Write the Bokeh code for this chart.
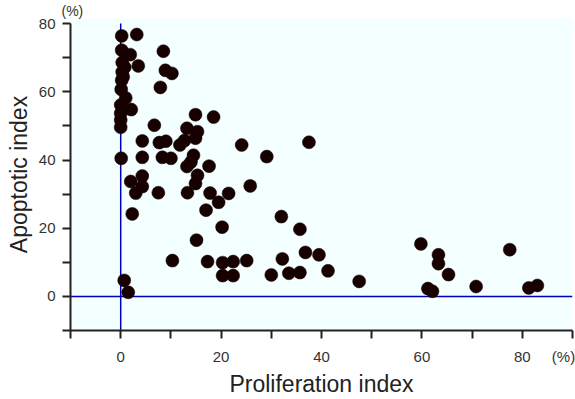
from bokeh.plotting import figure
from bokeh.models import FixedTicker
from bokeh.embed import file_html
from bokeh.resources import INLINE

# Proliferation index (%) and apoptotic index (%) per sample
prolif = [0.2, 3.2, 0.2, 1.9, 8.5, 0.3, 0.8, 3.5, 0.3, 0.5, 0.2, 8.9, 10.2, 7.9,
          0.1, 1.0, 0.0, 2.1, 0.0, 0.0, 0.0, 14.9, 18.5, 6.7, 13.2, 15.3, 14.9,
          4.3, 7.7, 9.0, 11.8, 12.7, 0.1, 4.3, 8.3, 10.0, 14.5, 13.2, 14.0, 17.6,
          2.0, 4.3, 4.3, 3.0, 7.5, 15.3, 14.9, 13.3, 17.8, 19.5, 21.5, 17.0, 2.3,
          20.2, 15.1, 10.3, 17.3, 20.3, 22.4, 20.3, 22.4, 0.7, 1.5, 24.1, 37.5,
          29.1, 25.8, 32.0, 35.7, 25.1, 30.0, 32.2, 36.8, 39.5, 33.5, 35.7, 41.3,
          47.5, 59.8, 63.3, 63.3, 65.3, 61.2, 62.1, 70.8, 77.5, 81.3, 83.0]
apopt = [76.4, 76.8, 72.2, 70.9, 71.9, 68.6, 67.2, 67.6, 65.8, 64.4, 63.4, 66.3,
         65.4, 61.3, 60.7, 58.2, 56.1, 54.8, 53.7, 51.7, 49.6, 53.3, 52.6, 50.2,
         49.3, 48.3, 46.4, 45.6, 45.1, 45.5, 44.4, 45.7, 40.5, 40.8, 40.8, 40.5,
         41.4, 38.1, 39.4, 38.2, 33.7, 35.3, 32.2, 30.3, 30.4, 35.5, 33.1, 30.4,
         30.3, 27.6, 30.2, 25.3, 24.2, 20.3, 16.5, 10.5, 10.2, 9.9, 10.2, 6.1,
         6.1, 4.7, 1.2, 44.4, 45.2, 41.0, 32.4, 23.4, 19.7, 10.5, 6.3, 11.0,
         12.9, 12.2, 6.8, 7.0, 7.5, 4.4, 15.4, 12.2, 9.6, 6.4, 2.3, 1.5, 2.9,
         13.7, 2.5, 3.2]

# tick marks (drawn as minor ticks) and labelled positions
x_marks = [-10, 0, 10, 20, 30, 40, 50, 60, 70, 80, 90]
x_label_pos = [0, 20, 40, 60, 80, 88.2]
x_label_text = ["0", "20", "40", "60", "80", "(%)"]
y_marks = [-10, 0, 10, 20, 30, 40, 50, 60, 70, 80]
y_label_pos = [0, 20, 40, 60, 80]
y_label_text = ["0", "20", "40", "60", "80"]

FONT = "Liberation Sans"
AXC = "#222222"

p = figure(width=575, height=399, x_range=(-10, 90), y_range=(-10, 81.5),
           output_backend="svg", toolbar_location=None,
           min_border_left=70, min_border_right=3, min_border_top=15,
           min_border_bottom=69)
p.background_fill_color = "#f4ffff"
p.border_fill_color = "white"
p.outline_line_color = None
p.xgrid.visible = False
p.ygrid.visible = False

# "(%)" unit label above the y axis
p.title.text = "(%)"
p.title.align = "left"
p.title.offset = -9
p.title.standoff = 0
p.title.text_font = FONT
p.title.text_font_size = "14px"
p.title.text_font_style = "normal"
p.title.text_color = "#333333"

for ax, marks, pos, txt in ((p.xaxis[0], x_marks, x_label_pos, x_label_text),
                            (p.yaxis[0], y_marks, y_label_pos, y_label_text)):
    ax.ticker = FixedTicker(ticks=pos, minor_ticks=marks)
    ax.major_label_overrides = {t: l for t, l in zip(pos, txt)}
    ax.major_tick_line_color = None
    ax.major_tick_in = 0
    ax.major_tick_out = 8
    ax.minor_tick_in = 0
    ax.minor_tick_out = 8
    ax.minor_tick_line_color = AXC
    ax.minor_tick_line_width = 2
    ax.axis_line_color = AXC
    ax.axis_line_width = 2
    ax.major_label_text_font = FONT
    ax.major_label_text_font_size = "15px"
    ax.major_label_text_color = "#333333"
    ax.axis_label_text_font = FONT
    ax.axis_label_text_font_size = "23px"
    ax.axis_label_text_font_style = "normal"
    ax.axis_label_text_color = "#222222"

p.xaxis.bounds = (-10, 90)
p.yaxis.bounds = (-10, 80)
p.xaxis.axis_label = "Proliferation index"
p.yaxis.axis_label = "Apoptotic index"
p.xaxis.major_label_standoff = 9
p.yaxis.major_label_standoff = 7
p.xaxis.axis_label_standoff = 3
p.yaxis.axis_label_standoff = 4

# reference lines at zero
p.line([-10, 90], [0, 0], line_color="#0000b4", line_width=1.5)
p.line([0, 0], [-10, 80], line_color="#0000b4", line_width=1.5)

p.scatter(prolif, apopt, size=13, fill_color="#170000", line_color="#170000",
          line_width=0.5)

open("out.html", "w").write(file_html(p, INLINE))
